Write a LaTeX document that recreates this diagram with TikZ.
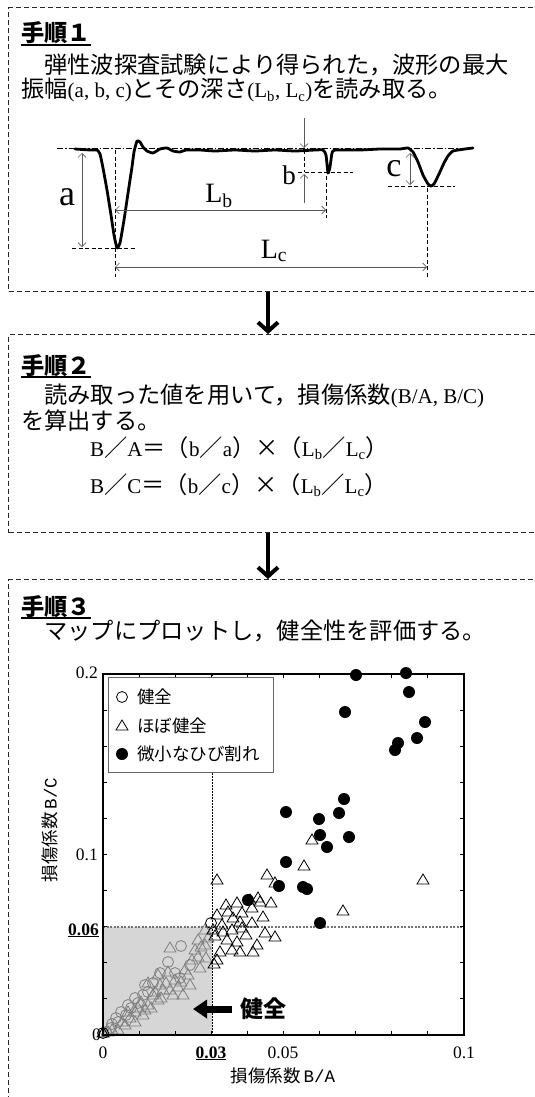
\documentclass[tikz,border=0pt]{standalone}
\usepackage{fontspec}
\setmainfont{Liberation Serif}
\newfontfamily\jp{Noto Sans CJK JP}
\newfontfamily\mono{Liberation Mono}
\usetikzlibrary{arrows.meta}
\newcommand{\fs}[1]{\fontsize{#1}{#1}\selectfont}
\newcommand{\J}[1]{{\jp\fs{23.25}#1}}
\newcommand{\JB}[1]{{\jp\bfseries\fs{23.25}#1}}
\begin{document}
\begin{tikzpicture}[x=1pt,y=-1pt,
  dbox/.style={draw=black!85, line width=1.2pt, dash pattern=on 5pt off 3pt, inner sep=0pt},
  flow/.style={line width=4pt, -{Straight Barb[length=9pt,width=20pt]}},
  dimline/.style={draw=black!65, line width=0.7pt},
  dimarr/.style={dimline, {Straight Barb[length=4pt,width=8pt]}-{Straight Barb[length=4pt,width=8pt]}},
  onearr/.style={dimline, -{Straight Barb[length=4pt,width=8pt]}},
  guide/.style={draw=black, line width=0.8pt, dash pattern=on 4pt off 2.5pt},
  body/.style={anchor=base west, inner sep=0pt, font=\fs{21}},
  dlabel/.style={inner sep=0pt},
  omark/.style={line width=0.8pt},
  tick/.style={line width=1pt},
  ticklab/.style={inner sep=0pt, font=\fs{17.5}},
]
\useasboundingbox (0,0) rectangle (535,1097);
\clip (0,0) rectangle (535,1097);

% ---------- boxes ----------
\node[dbox, anchor=north west, minimum width=540pt, minimum height=284pt] (box1) at (8,7) {};
\node[dbox, anchor=north west, minimum width=540pt, minimum height=198pt] (box2) at (8,334) {};
\node[dbox, anchor=north west, minimum width=540pt, minimum height=540pt] (box3) at (8,579) {};
\coordinate (ax) at (268,0);
\draw[flow] (ax |- box1.south) -- (ax |- box2.north);
\draw[flow] (ax |- box2.south) -- (ax |- box3.north);

% ---------- box 1 text ----------
\node[body] (t1) at (21,42) {\JB{手順１}};
\draw[line width=1.5pt] ([yshift=-3pt]t1.base west) -- ([yshift=-3pt]t1.base east);
\node[body] (l12) at (21,74) {\J{　弾性波探査試験により得られた，波形の最大}};
\node[body] (l13) at (21,98) {\J{振幅}(a, b, c)\J{とその深さ}(L\textsubscript{b}, L\textsubscript{c})\J{を読み取る。}};

% ---------- waveform ----------
\draw[line width=0.8pt, dash pattern=on 6pt off 2pt on 1.5pt off 2pt] (57,148) -- (473,148);
\draw[line width=2.8pt, line join=round, line cap=round] plot[smooth, tension=0.3] coordinates {
 (75,149) (90,150) (97,150) (100,154) (103,168) (107,190) (111,215) (114,235) (117,248) (120,243)
 (124,220) (127,200) (130,180) (132,167) (134,152) (137,141) (140,142) (143,147) (147,151) (153,153)
 (160,149) (167,148) (173,151) (180,152) (186,150) (200,150) (215,151) (235,150) (255,151) (275,150)
 (295,151) (315,150) (323,150) (326,155) (328,173) (330,167) (332,153) (335,150) (360,150) (380,149)
 (400,149) (408,148) (413,152) (418,162) (423,175) (428,184) (431,186) (434,184) (439,174) (444,163)
 (448,156) (453,151) (465,149) (473,148)};

% guides
\draw[guide] (72,248) -- (135,248);
\draw[guide] (115,150) -- (115,277);
\draw[guide] (326,176) -- (326,218);
\draw[guide] (298,172) -- (353,172);
\draw[guide] (304,150) -- (304,172);
\draw[guide] (388,186) -- (455,186);
\draw[guide] (427,188) -- (427,277);
% dimension arrows
\draw[dimarr] (82,153) -- (82,247);
\draw[dimarr] (115,210) -- (326,210);
\draw[dimarr] (115,267) -- (427,267);
\draw[dimarr] (410,153) -- (410,185);
\draw[onearr] (304,118) -- (304,148);
\draw[onearr] (304,203) -- (304,174);
% labels
\node[dlabel, font=\fs{36}] (la) at (67,197) {a};
\node[dlabel, font=\fs{27}] (lb) at (289,175) {b};
\node[dlabel, font=\fs{34}] (lc) at (394,169) {c};
\node[dlabel, font=\fs{28}] (lLb) at (219,196) {L\textsubscript{b}};
\node[dlabel, font=\fs{28}] (lLc) at (274,251) {L\textsubscript{c}};

% ---------- box 2 text ----------
\node[body] (t2) at (21,374) {\JB{手順２}};
\draw[line width=1.5pt] ([yshift=-3pt]t2.base west) -- ([yshift=-3pt]t2.base east);
\node[body] (l22) at (21,403) {\J{　読み取った値を用いて，損傷係数}(B/A, B/C)};
\node[body] (l23) at (21,429) {\J{を算出する。}};
\node[body] (f1) at (90,456) {B\J{／}A\J{＝（}b\J{／}a\J{）×（}L\textsubscript{b}\J{／}L\textsubscript{c}\J{）}};
\node[body] (f2) at (90,493) {B\J{／}C\J{＝（}b\J{／}c\J{）×（}L\textsubscript{b}\J{／}L\textsubscript{c}\J{）}};

% ---------- box 3 text ----------
\node[body] (t3) at (21,615) {\JB{手順３}};
\draw[line width=1.5pt] ([yshift=-3pt]t3.base west) -- ([yshift=-3pt]t3.base east);
\node[body] (l32) at (21,639) {\J{　マップにプロットし，健全性を評価する。}};

% ---------- chart ----------
\fill[black!16] (103,927) rectangle (212,1035);
\draw[black, line width=0.8pt, dash pattern=on 1.5pt off 1.5pt] (212,674) -- (212,1035);
\draw[black!55, line width=1.2pt, dash pattern=on 2pt off 1.5pt] (103,927) -- (464,927);

% gray triangles (inside shaded area)
\foreach \p/\q in {170/948,201/947,206/958,198/957,168/972,158/975,148/983,185/970,181/982,178/987,
 170/990,161/998,151/1008,143/1015,135/1022,125/1025,118/1030,141/1002,183/995,166/983,155/992,
 135/1012,198/940,205/930,208/938,192/960,188/975,175/980,163/990,158/1000,148/1005,145/1010,
 130/1018,122/1022,128/1012,138/1008,153/995,160/985,195/950,200/968,112/1030,108/1032,173/995,
 190/985,205/945}
 {\draw[omark, black!50] (\p-6,\q+4) -- (\p+6,\q+4) -- (\p,\q-6) -- cycle;}
% gray circles
\foreach \p/\q in {181/946,168/962,190/965,160/973,153/983,148/992,143/995,138/1003,131/1008,126/1015,
 121/1012,118/1022,111/1028,106/1032,175/973,180/978,135/998,145/985,128/1005,116/1018,112/1024}
 {\draw[omark, black!50] (\p,\q) circle[radius=5.5];}
% black open circles
\foreach \p/\q in {211/923,103/1033}
 {\draw[omark] (\p,\q) circle[radius=5.5];}
% black triangles
\foreach \p/\q in {217/880,267/875,275/883,258/898,304/866,312/840,343/911,423/880,
 237/903,250/900,260/902,271/903,242/913,252/908,217/915,233/918,240/922,252/923,263/917,213/930,
 223/932,232/930,242/928,265/933,275/937,227/940,237/942,257/945,220/952,232/950,240/952,253/952,
 217/960,214/964,222/925,246/935,228/912,226/905,215/936,103/1033}
 {\draw[omark] (\p-6,\q+4) -- (\p+6,\q+4) -- (\p,\q-6) -- cycle;}
% filled circles
\foreach \p/\q in {356/675,406/673,409/692,345/712,425/722,417/738,398/743,395/750,344/799,339/813,
 319/819,286/812,320/835,349/837,327/847,286/862,279/886,303/887,307/889,248/900,320/923}
 {\fill (\p,\q) circle[radius=6];}

% frame and ticks
\draw[line width=1.3pt] (103,674) rectangle (464,1035);
\foreach \k in {1,...,9} {
  \draw[tick] (103+36.1*\k,1035) -- (103+36.1*\k,1031);
  \draw[tick] (103+36.1*\k,674) -- (103+36.1*\k,678);
  \draw[tick] (103,1035-36.1*\k) -- (107,1035-36.1*\k);
  \draw[tick] (464,1035-36.1*\k) -- (460,1035-36.1*\k);
}
% tick labels
\node[ticklab, anchor=base east] (y02) at (98,678) {0.2};
\node[ticklab, anchor=base east] (y01) at (98,860) {0.1};
\node[ticklab, anchor=base east] (y006) at (99,935) {\underline{\textbf{0.06}}};
\node[ticklab, anchor=base east] (y0) at (101,1040) {0};
\node[ticklab, anchor=base] (x0) at (103,1058) {0};
\node[ticklab, anchor=base] (x003) at (211,1058) {\underline{\textbf{0.03}}};
\node[ticklab, anchor=base] (x005) at (283,1058) {0.05};
\node[ticklab, anchor=base] (x01) at (464,1058) {0.1};
% axis labels
\node[inner sep=0pt, font=\fs{17.5}] (xlab) at (283,1076) {{\jp 損傷係数}\,{\mono B/A}};
\node[inner sep=0pt, font=\fs{17.5}, rotate=90] (ylab) at (50,830) {{\jp 損傷係数}\,{\mono B/C}};

% legend
\node[draw=black!60, line width=1pt, fill=white, anchor=north west, minimum width=165pt, minimum height=95pt, inner sep=0pt] (legend) at (108,677) {};
\draw[omark] (122,697) circle[radius=5.5];
\draw[omark] (116,730) -- (128,730) -- (122,720) -- cycle;
\fill (122,754) circle[radius=6];
\node[inner sep=0pt, anchor=west, font=\jp\fs{17.5}] (lg1) at (137,697) {健全};
\node[inner sep=0pt, anchor=west, font=\jp\fs{17.5}] (lg2) at (137,726) {ほぼ健全};
\node[inner sep=0pt, anchor=west, font=\jp\fs{17.5}] (lg3) at (137,754) {微小なひび割れ};

% kenzen arrow
\node[inner sep=0pt, anchor=west, font=\jp\bfseries\fs{23}] (kz) at (240,1009) {健全};
\draw[line width=7pt, -{Triangle[length=14pt,width=18pt]}] ([xshift=-8pt]kz.west) -- ([xshift=-47pt]kz.west);
\end{tikzpicture}
\end{document}
